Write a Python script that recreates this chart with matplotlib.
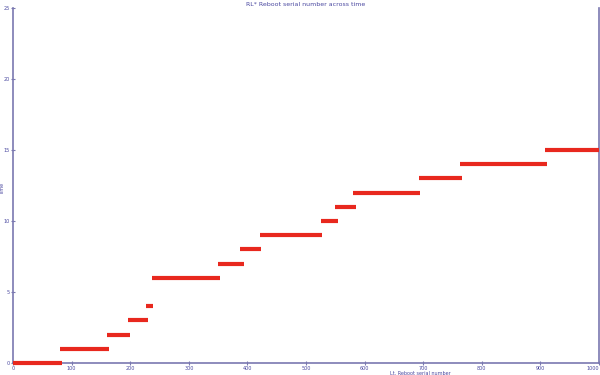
import matplotlib
matplotlib.use("Agg")
import matplotlib.pyplot as plt

# Reboot segments: start, end, serial number
seg_start = [0, 80, 160, 196, 227, 237, 349, 388, 421, 525, 550, 581, 692, 762, 908]
seg_end = [83, 164, 199, 230, 239, 353, 394, 424, 528, 555, 586, 695, 767, 912, 1000]
serial = [0, 1, 2, 3, 4, 6, 7, 8, 9, 10, 11, 12, 13, 14, 15]

x_ticks = [0, 100, 200, 300, 400, 500, 600, 700, 800, 900, 1000]
y_ticks = [0, 5, 10, 15, 20, 25]

title = "RL* Reboot serial number across time"
x_label = "Lt. Reboot serial number"
y_label = "Time"

axis_col = "#7a78b0"
text_col = "#4a48a0"

fig = plt.figure(figsize=(6, 3.75), dpi=100)
ax = fig.add_axes([0.0217, 0.032, 0.9766, 0.947])

ax.hlines(serial, seg_start, seg_end, colors="#e8281e", linewidth=3.0,
          clip_on=False, zorder=5)

ax.set_xlim(0, 1000)
ax.set_ylim(0, 25)
ax.set_xticks(x_ticks)
ax.set_yticks(y_ticks)
ax.set_xticklabels([str(v) for v in x_ticks])
ax.set_yticklabels([str(v) for v in y_ticks])
ax.get_xticklabels()[-1].set_horizontalalignment("right")

for s in ["left", "bottom", "right"]:
    ax.spines[s].set_color(axis_col)
    ax.spines[s].set_linewidth(1.2)
    ax.spines[s].set_zorder(2)
ax.spines["top"].set_visible(False)

ax.tick_params(axis="both", direction="inout", length=3, width=0.8, color=axis_col,
               labelsize=3.5, labelcolor=text_col, pad=1)
ax.set_title(title, fontsize=4.5, color=text_col, pad=1)
ax.set_xlabel(x_label, fontsize=3.5, color=text_col)
ax.xaxis.set_label_coords(0.695, -0.022)
ax.set_ylabel(y_label, fontsize=3.5, color=text_col)
ax.yaxis.set_label_coords(-0.013, 0.49)

fig.savefig("out.png", dpi=100)
